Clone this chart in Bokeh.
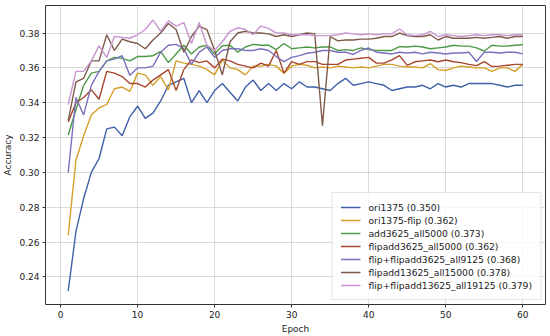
from bokeh.plotting import figure
from bokeh.models import Range1d, FixedTicker, NumeralTickFormatter, Legend, LegendItem
from bokeh.embed import file_html
from bokeh.resources import INLINE

epochs = list(range(1, 61))

ori1375 = [0.232,0.266,0.285,0.300,0.308,0.325,0.326,0.321,0.332,0.338,
           0.331,0.334,0.341,0.350,0.352,0.354,0.340,0.347,0.340,0.347,
           0.351,0.346,0.341,0.349,0.353,0.347,0.351,0.347,0.351,0.348,
           0.352,0.349,0.349,0.348,0.347,0.351,0.354,0.350,0.351,0.352,
           0.351,0.350,0.347,0.348,0.349,0.349,0.350,0.348,0.351,0.349,
           0.350,0.349,0.351,0.351,0.351,0.351,0.350,0.349,0.350,0.350]
ori1375_flip = [0.264,0.307,0.321,0.333,0.337,0.339,0.348,0.349,0.3465,0.357,
                0.356,0.350,0.355,0.3474,0.364,0.3627,0.362,0.361,0.359,0.356,
                0.3646,0.360,0.359,0.356,0.361,0.361,0.362,0.361,0.357,0.361,
                0.362,0.3615,0.360,0.3605,0.360,0.361,0.3605,0.360,0.3605,0.360,
                0.361,0.362,0.362,0.361,0.3605,0.3605,0.360,0.3625,0.359,0.3585,
                0.360,0.361,0.3605,0.360,0.360,0.358,0.360,0.360,0.358,0.362]
add3625 = [0.3215,0.336,0.350,0.357,0.358,0.364,0.366,0.3655,0.364,0.3665,
           0.3665,0.367,0.3695,0.363,0.368,0.373,0.368,0.372,0.373,0.368,
           0.3727,0.373,0.369,0.372,0.3735,0.373,0.373,0.3705,0.374,0.371,
           0.3715,0.372,0.3715,0.372,0.372,0.370,0.3705,0.370,0.3715,0.3705,
           0.370,0.370,0.370,0.3722,0.372,0.3725,0.372,0.371,0.3715,0.372,
           0.373,0.3725,0.3725,0.3715,0.3697,0.373,0.3725,0.3725,0.373,0.3733]
flipadd3625 = [0.329,0.340,0.343,0.3474,0.342,0.358,0.357,0.355,0.351,0.351,
               0.349,0.353,0.356,0.359,0.347,0.359,0.3646,0.363,0.364,0.360,
               0.365,0.364,0.362,0.361,0.360,0.3627,0.361,0.370,0.357,0.3636,
               0.362,0.3636,0.3636,0.362,0.362,0.362,0.3645,0.365,0.3655,0.366,
               0.3627,0.3627,0.3646,0.367,0.3614,0.3635,0.364,0.3645,0.3635,0.3645,
               0.3635,0.363,0.362,0.3613,0.3636,0.3608,0.361,0.3615,0.362,0.362]
flip_flipadd3625 = [0.300,0.343,0.333,0.350,0.358,0.364,0.365,0.367,0.3557,0.360,
                    0.360,0.361,0.369,0.373,0.3735,0.371,0.362,0.369,0.372,0.366,
                    0.370,0.371,0.371,0.370,0.370,0.371,0.370,0.3665,0.3636,0.366,
                    0.367,0.3684,0.369,0.370,0.370,0.369,0.369,0.3677,0.370,0.3714,
                    0.369,0.3685,0.368,0.369,0.3685,0.369,0.368,0.369,0.3685,0.368,
                    0.3685,0.3685,0.369,0.3637,0.369,0.369,0.3685,0.369,0.369,0.368]
flipadd13625 = [0.3297,0.352,0.354,0.364,0.364,0.379,0.370,0.3765,0.375,0.374,
                0.371,0.376,0.380,0.3855,0.382,0.369,0.378,0.384,0.382,0.370,
                0.356,0.375,0.380,0.381,0.380,0.380,0.3795,0.378,0.379,0.378,
                0.379,0.380,0.3795,0.3268,0.378,0.3755,0.376,0.376,0.3765,0.3765,
                0.377,0.378,0.378,0.380,0.3785,0.378,0.378,0.379,0.376,0.378,
                0.377,0.377,0.377,0.3775,0.377,0.3775,0.378,0.377,0.378,0.378]
flip_flipadd13625 = [0.339,0.358,0.358,0.364,0.3726,0.366,0.378,0.3775,0.377,0.379,
                     0.382,0.3875,0.381,0.387,0.384,0.386,0.374,0.386,0.373,0.370,
                     0.375,0.381,0.383,0.382,0.379,0.384,0.3827,0.380,0.380,0.379,
                     0.379,0.379,0.3785,0.3785,0.3785,0.379,0.380,0.3795,0.379,0.3795,
                     0.379,0.3795,0.3795,0.3823,0.379,0.3785,0.379,0.381,0.378,0.379,
                     0.3785,0.378,0.3785,0.379,0.3785,0.379,0.379,0.3785,0.379,0.379]

series_names = ["ori1375 (0.350)", "ori1375-flip (0.362)", "add3625_all5000 (0.373)",
                "flipadd3625_all5000 (0.362)", "flip+flipadd3625_all9125 (0.368)",
                "flipadd13625_all15000 (0.378)", "flip+flipadd13625_all19125 (0.379)"]
series_values = [ori1375, ori1375_flip, add3625, flipadd3625, flip_flipadd3625,
                 flipadd13625, flip_flipadd13625]
colors = ["#3f5fa8", "#d4a02a", "#4c9a45", "#a8452e", "#7a70bd", "#7e5a4a", "#c796d0"]

x_ticks = [0, 10, 20, 30, 40, 50, 60]
y_ticks = [0.24, 0.26, 0.28, 0.30, 0.32, 0.34, 0.36, 0.38]

p = figure(width=550, height=336, output_backend="svg", toolbar_location=None,
           x_range=Range1d(-1.95, 62.95), y_range=Range1d(0.2242, 0.3958),
           min_border_top=5, min_border_right=5, min_border_left=43, min_border_bottom=32)

items = []
for name, vals, c in zip(series_names, series_values, colors):
    r = p.line(epochs, vals, line_color=c, line_width=1.4)
    items.append(LegendItem(label=name, renderers=[r]))

font = "DejaVu Sans"
for ax in (p.xaxis[0], p.yaxis[0]):
    ax.major_label_text_font = font
    ax.major_label_text_font_size = "9px"
    ax.major_label_text_color = "#222222"
    ax.axis_label_text_font = font
    ax.axis_label_text_font_size = "9px"
    ax.axis_label_text_font_style = "normal"
    ax.axis_label_text_color = "#222222"
    ax.axis_line_color = None
    ax.major_tick_line_color = "#333333"
    ax.major_tick_out = 3
    ax.major_tick_in = 0
    ax.minor_tick_line_color = None
    ax.major_label_standoff = 3
    ax.axis_label_standoff = 3

p.xaxis[0].ticker = FixedTicker(ticks=x_ticks)
p.yaxis[0].ticker = FixedTicker(ticks=y_ticks)
p.yaxis[0].formatter = NumeralTickFormatter(format="0.00")
p.xaxis[0].axis_label = "Epoch"
p.yaxis[0].axis_label = "Accuracy"

p.xgrid.grid_line_color = "#d0d0d0"
p.ygrid.grid_line_color = "#d0d0d0"
p.xgrid.grid_line_width = 0.8
p.ygrid.grid_line_width = 0.8
p.outline_line_color = "#333333"
p.outline_line_width = 1
p.background_fill_color = "white"
p.border_fill_color = "white"

legend = Legend(items=items, location="bottom_right")
legend.label_text_font = font
legend.label_text_font_size = "9.2px"
legend.label_text_color = "#222222"
legend.label_height = 12
legend.glyph_height = 12
legend.glyph_width = 20
legend.spacing = 1
legend.padding = 8
legend.margin = 4
legend.label_standoff = 8
legend.border_line_color = "#cccccc"
legend.background_fill_alpha = 0.8
p.add_layout(legend)

open("out.html", "w").write(file_html(p, INLINE))
